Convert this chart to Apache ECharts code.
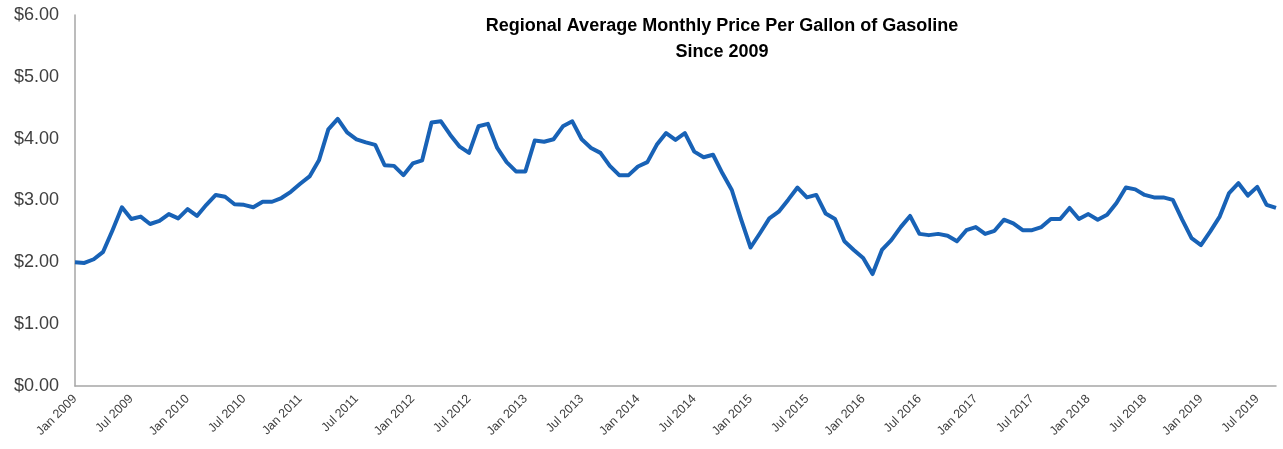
<!DOCTYPE html>
<html>
<head>
<meta charset="utf-8">
<title>Regional Average Monthly Price Per Gallon of Gasoline</title>
<script src="https://cdn.jsdelivr.net/npm/echarts@6/dist/echarts.min.js"></script>
<style>
  html, body { margin: 0; padding: 0; background: #fff; }
  #chart { width: 1283px; height: 449px; }
</style>
</head>
<body>
<div id="chart"></div>
<script>
// months Jan 2009 .. Sep 2019
const monthNames = ['Jan', 'Feb', 'Mar', 'Apr', 'May', 'Jun', 'Jul', 'Aug', 'Sep', 'Oct', 'Nov', 'Dec'];
const startYear = 2009;
const monthCount = 129;

// average price per gallon
const prices = [
  2.00, 1.99, 2.05, 2.17, 2.52, 2.89, 2.70, 2.74, 2.62, 2.67, 2.78, 2.71,   // 2009
  2.86, 2.75, 2.93, 3.09, 3.06, 2.94, 2.93, 2.89, 2.98, 2.98, 3.04, 3.14,   // 2010
  3.27, 3.39, 3.65, 4.15, 4.32, 4.10, 3.99, 3.94, 3.90, 3.57, 3.56, 3.41,   // 2011
  3.60, 3.65, 4.26, 4.28, 4.06, 3.87, 3.77, 4.20, 4.24, 3.85, 3.62, 3.47,   // 2012
  3.47, 3.97, 3.95, 3.99, 4.20, 4.28, 3.99, 3.85, 3.77, 3.56, 3.41, 3.41,   // 2013
  3.55, 3.62, 3.90, 4.09, 3.98, 4.09, 3.79, 3.70, 3.74, 3.44, 3.17, 2.69,   // 2014
  2.24, 2.47, 2.71, 2.82, 3.01, 3.21, 3.05, 3.09, 2.79, 2.70, 2.34, 2.20,   // 2015
  2.07, 1.81, 2.20, 2.36, 2.57, 2.75, 2.46, 2.44, 2.46, 2.43, 2.34, 2.52,   // 2016
  2.57, 2.46, 2.51, 2.69, 2.63, 2.52, 2.52, 2.57, 2.70, 2.70, 2.88, 2.70,   // 2017
  2.78, 2.69, 2.77, 2.96, 3.21, 3.18, 3.09, 3.05, 3.05, 3.01, 2.69, 2.39,   // 2018
  2.28, 2.50, 2.74, 3.12, 3.28, 3.08, 3.22, 2.93, 2.88                      // 2019
];

const yTicks = [0, 1, 2, 3, 4, 5, 6];

const categories = [];
for (let i = 0; i < monthCount; i++) {
  categories.push(monthNames[i % 12] + ' ' + (startYear + Math.floor(i / 12)));
}

const chart = echarts.init(document.getElementById('chart'));

const option = {
  animation: false,
  backgroundColor: '#ffffff',
  title: {
    text: 'Regional Average Monthly Price Per Gallon of Gasoline\nSince 2009',
    left: 717,
    top: 8,
    textAlign: 'center',
    textStyle: {
      fontFamily: 'Liberation Sans',
      fontSize: 18,
      fontWeight: 'bold',
      color: '#000',
      lineHeight: 26
    }
  },
  grid: {
    left: 75,
    right: 7,
    top: 15,
    bottom: 63,
    containLabel: false
  },
  xAxis: {
    type: 'category',
    data: categories,
    boundaryGap: false,
    axisLine: { show: true, lineStyle: { color: '#a6a6a6', width: 1.5 } },
    axisTick: { show: false },
    splitLine: { show: false },
    axisLabel: {
      interval: 5,
      rotate: 45,
      margin: 11,
      color: '#404040',
      fontFamily: 'Liberation Sans',
      fontSize: 12.5
    }
  },
  yAxis: {
    type: 'value',
    min: yTicks[0],
    max: yTicks[yTicks.length - 1],
    interval: 1,
    axisLine: { show: true, lineStyle: { color: '#a6a6a6', width: 1.5 } },
    axisTick: { show: false },
    splitLine: { show: false },
    axisLabel: {
      margin: 16,
      color: '#404040',
      fontFamily: 'Liberation Sans',
      fontSize: 18,
      formatter: (v) => '$' + v.toFixed(2)
    }
  },
  series: [{
    name: 'Price per gallon',
    type: 'line',
    data: prices,
    showSymbol: false,
    symbol: 'none',
    lineStyle: { color: '#1862b6', width: 4, join: 'round' },
    itemStyle: { color: '#1862b6' }
  }]
};

chart.setOption(option);
</script>
</body>
</html>
